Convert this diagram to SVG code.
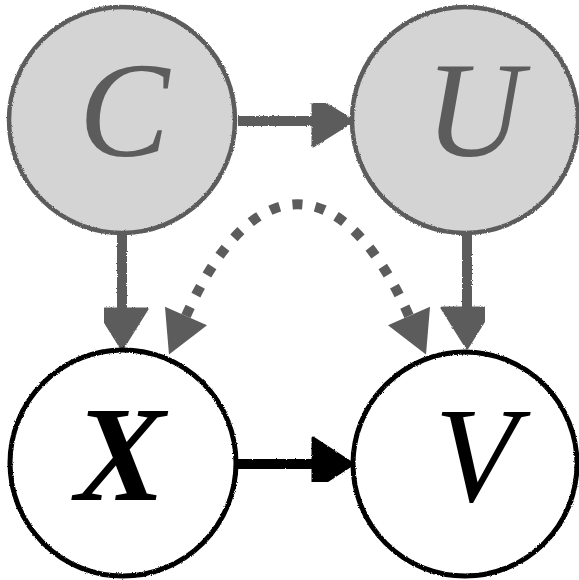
<svg xmlns="http://www.w3.org/2000/svg" width="579" height="580" viewBox="0 0 579 580">
  <style>
    .latent circle { fill: #d4d4d4; stroke: #5c5c5c; stroke-width: 4.5; }
    .observed circle { fill: #ffffff; stroke: #000000; stroke-width: 5; }
    .lbl { font-family: "Liberation Serif", "Times New Roman", serif; font-style: italic; font-size: 136px; text-anchor: middle; }
    .latent .lbl { fill: #5c5c5c; }
    .observed .lbl { fill: #000000; }
    .edge { fill: none; stroke-width: 10; }
    .gray { stroke: #5c5c5c; }
    .black { stroke: #000000; }
    .dashed { stroke: #5c5c5c; stroke-dasharray: 10 13; }
    .rough { filter: url(#rough); }
  </style>
  <defs>
    <filter id="rough" x="-5%" y="-5%" width="110%" height="110%">
      <feTurbulence type="fractalNoise" baseFrequency="0.9" numOctaves="2" seed="3" result="n"/>
      <feDisplacementMap in="SourceGraphic" in2="n" scale="2.5" xChannelSelector="R" yChannelSelector="G"/>
    </filter>
    <marker id="ahGray" markerUnits="userSpaceOnUse" markerWidth="40" markerHeight="50" refX="0" refY="25" orient="auto" overflow="visible">
      <path d="M0,0 L40,25 L0,50 Z" fill="#5c5c5c" stroke="#5c5c5c" stroke-width="3" stroke-linejoin="round"/>
    </marker>
    <marker id="ahBlack" markerUnits="userSpaceOnUse" markerWidth="40" markerHeight="52" refX="0" refY="26" orient="auto" overflow="visible">
      <path d="M0,0 L40,26 L0,52 Z" fill="#000000" stroke="#000000" stroke-width="3" stroke-linejoin="round"/>
    </marker>
    <marker id="ahDash" markerUnits="userSpaceOnUse" markerWidth="42" markerHeight="46" refX="0" refY="23" orient="auto-start-reverse" overflow="visible">
      <path d="M0,0 L42,23 L0,46 Z" fill="#5c5c5c"/>
    </marker>
  </defs>

  <g id="connectors">
    <g class="rough">
      <path class="edge gray" d="M238,121 L313,121" marker-end="url(#ahGray)"/>
      <path class="edge gray" d="M122,235 L122,309" marker-end="url(#ahGray)"/>
      <path class="edge gray" d="M467,235 L467,308" marker-end="url(#ahGray)"/>
      <path class="edge black" d="M238,464 L313,464" marker-end="url(#ahBlack)"/>
    </g>
    <path class="edge dashed" d="M186,316 C252,167 343,167 409,316" marker-start="url(#ahDash)" marker-end="url(#ahDash)"/>
  </g>

  <g id="node-C" class="latent">
    <circle class="rough" cx="122" cy="120" r="113"/>
    <text class="lbl" x="124" y="156">C</text>
  </g>
  <g id="node-U" class="latent">
    <circle class="rough" cx="465" cy="120" r="113"/>
    <text class="lbl" x="474" y="156">U</text>
  </g>
  <g id="node-X" class="observed">
    <circle class="rough" cx="123" cy="463" r="113"/>
    <text class="lbl" x="120" y="500" font-weight="bold">X</text>
  </g>
  <g id="node-V" class="observed">
    <circle class="rough" cx="465" cy="464" r="112"/>
    <text class="lbl" x="476" y="501">V</text>
  </g>
</svg>
